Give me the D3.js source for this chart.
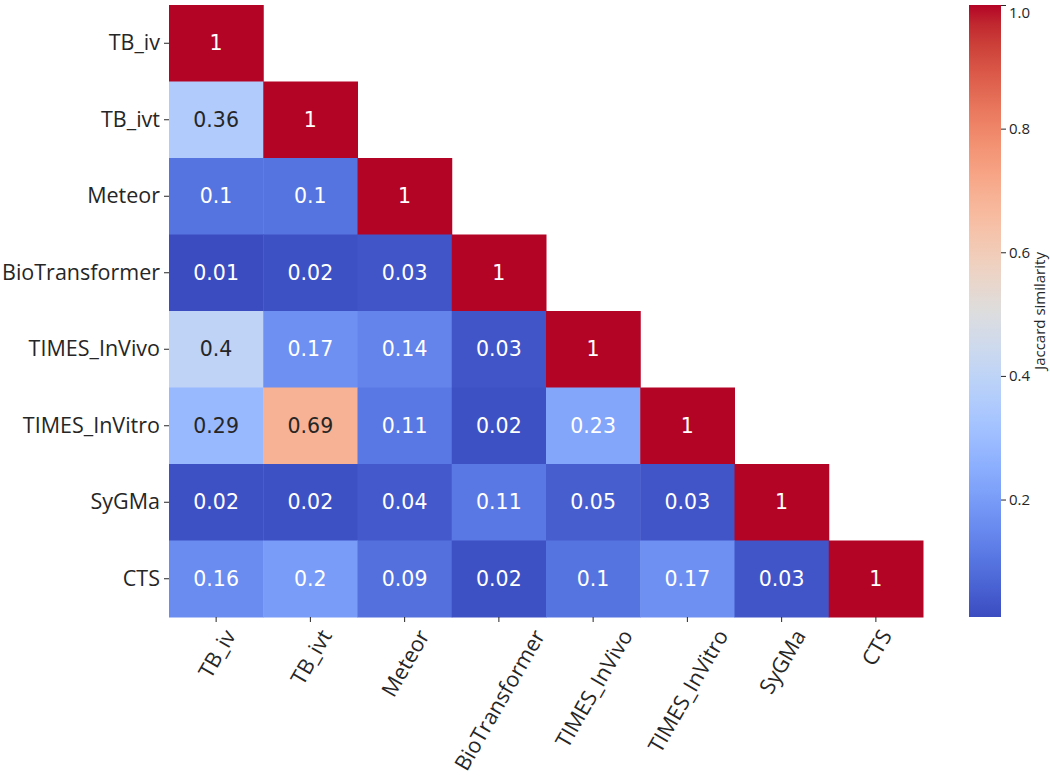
<!DOCTYPE html>
<html>
<head>
<meta charset="utf-8">
<script src="https://cdn.jsdelivr.net/npm/d3@7"></script>
<style>
  html, body { margin: 0; padding: 0; background: #fff; }
  svg { display: block; }
</style>
</head>
<body>
<svg id="chart" width="1050" height="777"></svg>
<script>
// ---- data ----
const labels = ["TB_iv", "TB_ivt", "Meteor", "BioTransformer", "TIMES_InVivo", "TIMES_InVitro", "SyGMa", "CTS"];
const rowTB_iv = [1];
const rowTB_ivt = [0.36, 1];
const rowMeteor = [0.1, 0.1, 1];
const rowBioTransformer = [0.01, 0.02, 0.03, 1];
const rowTIMES_InVivo = [0.4, 0.17, 0.14, 0.03, 1];
const rowTIMES_InVitro = [0.29, 0.69, 0.11, 0.02, 0.23, 1];
const rowSyGMa = [0.02, 0.02, 0.04, 0.11, 0.05, 0.03, 1];
const rowCTS = [0.16, 0.2, 0.09, 0.02, 0.1, 0.17, 0.03, 1];
const rows = [rowTB_iv, rowTB_ivt, rowMeteor, rowBioTransformer, rowTIMES_InVivo, rowTIMES_InVitro, rowSyGMa, rowCTS];
const colorbarTicks = [0.2, 0.4, 0.6, 0.8, 1.0];
const colorbarLabel = "Jaccard similarity";
const vmin = 0.01, vmax = 1.0;

// matplotlib coolwarm (Moreland) control points
const coolwarm = [
  [59,76,192],[68,90,204],[77,104,215],[87,117,225],[98,130,234],[108,142,241],
  [119,154,247],[130,165,251],[141,176,254],[152,185,255],[163,194,255],[174,201,253],
  [184,208,249],[194,213,244],[204,217,238],[213,219,230],[221,221,221],[229,216,209],
  [236,211,197],[241,204,184],[245,196,172],[247,187,160],[247,177,148],[247,166,135],
  [244,154,123],[241,141,111],[236,127,99],[229,112,88],[222,96,77],[213,80,66],
  [203,62,56],[192,40,47],[180,4,38]
].map(c => d3.rgb(c[0], c[1], c[2]).toString());

const interp = d3.piecewise(d3.interpolateRgb, coolwarm);
const color = d3.scaleSequential(interp).domain([vmin, vmax]).clamp(true);

// ---- layout ----
const M = {left: 169, top: 5, right: 923, bottom: 617};
const svg = d3.select("#chart");
const tickFont = 21.5;

const x = d3.scaleBand().domain(labels).range([M.left, M.right]);
const y = d3.scaleBand().domain(labels).range([M.top, M.bottom]);

const cells = [];
rows.forEach((r, i) => r.forEach((v, j) => cells.push({row: labels[i], col: labels[j], v})));

function relLum(c) {
  const f = u => { u /= 255; return u <= 0.03928 ? u / 12.92 : Math.pow((u + 0.055) / 1.055, 2.4); };
  const rgb = d3.rgb(c);
  return 0.2126 * f(rgb.r) + 0.7152 * f(rgb.g) + 0.0722 * f(rgb.b);
}

svg.append("g").selectAll("rect").data(cells).join("rect")
  .attr("x", d => x(d.col))
  .attr("y", d => y(d.row))
  .attr("width", x.bandwidth() + 0.5)
  .attr("height", y.bandwidth() + 0.5)
  .attr("fill", d => color(d.v));

svg.append("g").selectAll("text").data(cells).join("text")
  .attr("x", d => x(d.col) + x.bandwidth() / 2)
  .attr("y", d => y(d.row) + y.bandwidth() / 2)
  .attr("text-anchor", "middle")
  .attr("dominant-baseline", "central")
  .attr("font-family", "DejaVu Sans")
  .attr("font-size", 20.5)
  .attr("fill", d => relLum(color(d.v)) > 0.408 ? "#262626" : "#ffffff")
  .text(d => String(+d.v.toFixed(2)));

// y axis
const yAxis = svg.append("g").attr("transform", `translate(${M.left},0)`)
  .call(d3.axisLeft(y).tickSize(5).tickPadding(4));
yAxis.select(".domain").remove();
yAxis.selectAll("line").attr("stroke", "#262626");
yAxis.selectAll("text").attr("font-family", "Open Sans").attr("font-size", tickFont).attr("fill", "#262626");

// x axis
const xAxis = svg.append("g").attr("transform", `translate(0,${M.bottom})`)
  .call(d3.axisBottom(x).tickSize(5).tickFormat(""));
xAxis.select(".domain").remove();
xAxis.selectAll("line").attr("stroke", "#262626");

const xl = svg.append("g").selectAll("text").data(labels).join("text")
  .attr("font-family", "Open Sans").attr("font-size", tickFont).attr("fill", "#262626")
  .attr("text-anchor", "middle").attr("dominant-baseline", "central")
  .text(d => d);
const ang = 60 * Math.PI / 180;
xl.each(function(d) {
  const L = this.getComputedTextLength();
  const h = tickFont * 0.95;
  const ext = L * Math.sin(ang) + h * Math.cos(ang);
  const cx = x(d) + x.bandwidth() / 2;
  const cy = M.bottom + 9 + ext / 2;
  d3.select(this).attr("transform", `translate(${cx},${cy}) rotate(-60)`);
});

// colorbar
const cbx0 = 969, cbx1 = 1001;
const cy2 = d3.scaleLinear().domain([vmin, vmax]).range([M.bottom, M.top]);
const defs = svg.append("defs");
const grad = defs.append("linearGradient").attr("id", "cbgrad")
  .attr("x1", 0).attr("y1", 1).attr("x2", 0).attr("y2", 0);
d3.range(0, 1.0001, 1 / 64).forEach(t => {
  grad.append("stop").attr("offset", t).attr("stop-color", interp(t));
});
svg.append("rect").attr("x", cbx0).attr("y", M.top).attr("width", cbx1 - cbx0).attr("height", M.bottom - M.top)
  .attr("fill", "url(#cbgrad)");
const cbAxis = svg.append("g").attr("transform", `translate(${cbx1},0)`)
  .call(d3.axisRight(cy2).tickValues(colorbarTicks).tickFormat(d3.format(".1f")).tickSize(5).tickPadding(3));
cbAxis.select(".domain").remove();
cbAxis.selectAll("line").attr("stroke", "#262626");
cbAxis.selectAll("text").attr("font-family", "Open Sans").attr("font-size", 15).attr("fill", "#262626")
  .attr("dy", d => d === 1 ? "0.8em" : "0.32em");

svg.append("text")
  .attr("transform", `translate(1039,${(M.top + M.bottom) / 2}) rotate(-90)`)
  .attr("text-anchor", "middle").attr("dominant-baseline", "central")
  .attr("font-family", "Open Sans").attr("font-size", 15).attr("fill", "#262626")
  .text(colorbarLabel);
</script>
</body>
</html>
